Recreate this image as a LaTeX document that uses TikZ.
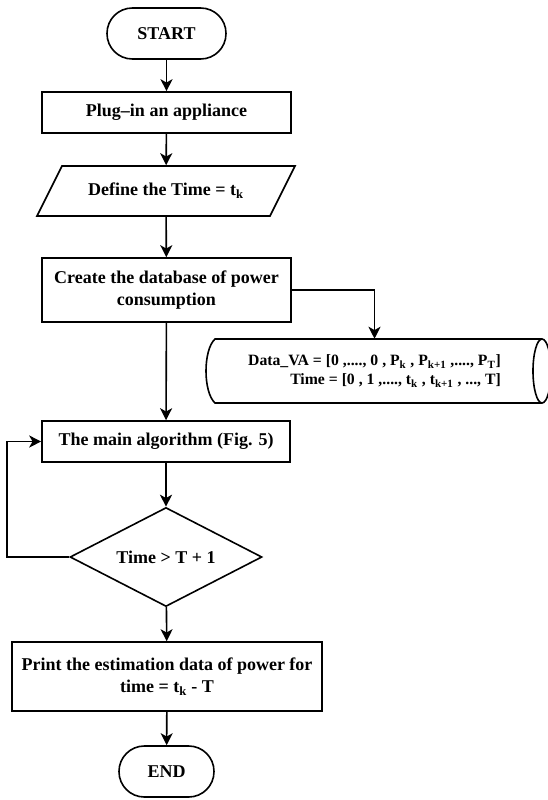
\documentclass[tikz,border=0pt]{standalone}
\usepackage{fontspec}
\setmainfont{Liberation Serif}
\usetikzlibrary{shapes.geometric,arrows.meta}

\tikzset{
  flowline/.style={line width=1.2pt,-{Stealth[length=9pt,width=9pt,inset=2.5pt]}},
  chartbox/.style={draw,line width=1.2pt,align=center,inner sep=0pt,font=\fontsize{13.5}{16.5}\selectfont\bfseries},
  terminal/.style={chartbox,rounded corners=19pt,minimum height=38.25pt},
  process/.style={chartbox,rectangle},
  decision/.style={chartbox,diamond,shape aspect=2}
}

\begin{document}
\begin{tikzpicture}[x=0.75pt,y=0.75pt,yscale=-1,xscale=1]
        \useasboundingbox (0,0) rectangle (547,800);

        % Terminal Node
        \node [terminal,minimum width=89.25pt] (start) at (166.5,33.5) {START};
        % Process Node
        \node [process,minimum width=186.75pt,minimum height=30.75pt] (plugin) at (166.5,112.5) {Plug--in an appliance};
        %Shape: Parallelogram
        \draw [line width=1.2pt] (62,166) -- (295,166) -- (270,216) -- (37,216) -- cycle ;
        % Input Node
        \node [chartbox,draw=none,minimum width=193.5pt,minimum height=37.5pt] (definetime) at (166,191) {Define the Time = t\textsubscript{k}};
        % Process Node
        \node [process,minimum width=186.75pt,minimum height=48pt] (create) at (166.5,290) {Create the database of power\\consumption};
        % Storage Node
        \node [align=right,inner sep=0pt,minimum width=251.25pt,minimum height=48pt,font=\fontsize{11.8}{14.25}\selectfont\bfseries] (datastore) at (374.5,371) {Data\_VA = [0 ,...., 0 , P\textsubscript{k} , P\textsubscript{k+1} ,...., P\textsubscript{T}]\\Time = [0 , 1 ,...., t\textsubscript{k} , t\textsubscript{k+1} , ..., T]};
        %Shape: Stored Data
        \draw [line width=1.2pt] (542,339) -- (215,339) .. controls (203,350) and (203,392) .. (215,403) -- (542,403) ;
        \draw [line width=1.2pt] (542,371) ellipse [x radius=9, y radius=32] ;
        % Process Node
        \node [process,minimum width=186pt,minimum height=30.75pt] (mainalg) at (166,441.5) {The main algorithm (Fig. 5)};
        % Decision Node
        \node [decision,minimum width=144pt,minimum height=74.25pt] (check) at (166,557) {Time > T + 1};
        % Process Node
        \node [process,minimum width=232.5pt,minimum height=51.75pt] (print) at (167,676.5) {Print the estimation data of power for\\time = t\textsubscript{k} - T};
        % Terminal Node
        \node [terminal,minimum width=71.25pt] (stop) at (166.5,771.5) {END};

        % Connectors
        \draw [flowline] (start) -- (plugin) ;
        \draw [flowline] (plugin) -- (definetime) ;
        \draw [flowline] (definetime) -- (create) ;
        \draw [flowline] (create.east) -| (datastore.north) ;
        \draw [flowline] (create) -- (mainalg) ;
        \draw [flowline] (mainalg) -- (check) ;
        \draw [flowline] (check.west) -- ++(-62,0) |- (mainalg.west) ;
        \draw [flowline] (check) -- (print) ;
        \draw [flowline] (print) -- (stop) ;

\end{tikzpicture}
\end{document}
